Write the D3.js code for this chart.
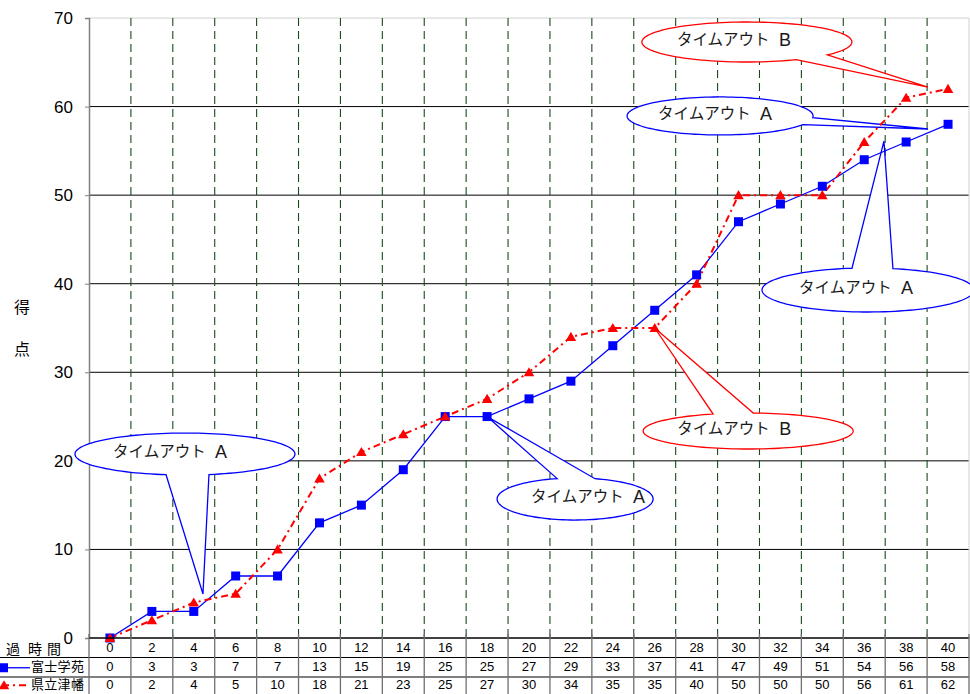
<!DOCTYPE html>
<html><head><meta charset="utf-8">
<script src="https://cdn.jsdelivr.net/npm/d3@7"></script>
<style>body{margin:0;background:#fff}svg{display:block}</style>
</head><body>
<script>
// ---- data ----
const times = [0,2,4,6,8,10,12,14,16,18,20,22,24,26,28,30,32,34,36,38,40];
const fuji = [0,3,3,7,7,13,15,19,25,25,27,29,33,37,41,47,49,51,54,56,58];
const tsubata = [0,2,4,5,10,18,21,23,25,27,30,34,35,35,40,50,50,50,56,61,62];
const seriesNames = ["富士学苑","県立津幡"];
const yTicks = [0,10,20,30,40,50,60,70];
const rowHeader = ["過","時","間"];
const yLabel = ["得","点"];
// callouts: centre (category index, score), tip (category index, score)
const calloutWord = "タイムアウト";
const calloutLetter = ["A","A","B","A","A","B"];
const calloutTeam = [0,0,1,0,0,1];
const calloutCentre = [[1.79,20.77],[11.10,15.69],[15.23,23.37],[18.09,39.29],[14.56,58.94],[15.20,67.29]];
const calloutTip = [[2.22,4.97],[9.0,25.0],[13.0,35.0],[18.47,56.1],[19.52,57.47],[19.52,62.2]];

// ---- layout ----
const W=970,H=694;
const L=89,R=969,T=18,B=638;
const rowH=19.5;
const svg=d3.select("body").append("svg").attr("width",W).attr("height",H);
const x=d3.scaleBand().domain(times).range([L,R]);
const xi=d3.scaleLinear().domain([-0.5,times.length-0.5]).range([L,R]);
const y=d3.scaleLinear().domain([0,70]).range([B,T]);
const bw=x.bandwidth();
const cx=t=>x(t)+bw/2;
const colors=["#0000ff","#ff0000"];
const font="Liberation Sans, Arial, sans-serif";
const cjk="'Noto Sans CJK JP', sans-serif";

// horizontal grid
svg.append("g").selectAll("line").data(yTicks.filter(d=>d>0&&d<70)).join("line")
  .attr("x1",L).attr("x2",R).attr("y1",d=>y(d)).attr("y2",d=>y(d))
  .attr("stroke","#000").attr("stroke-width",1);
// plot border top/right
svg.append("line").attr("x1",L).attr("x2",R).attr("y1",y(70)).attr("y2",y(70)).attr("stroke","#d0d0d0");
svg.append("line").attr("x1",R).attr("x2",R).attr("y1",y(70)).attr("y2",B).attr("stroke","#d0d0d0");
// vertical dashed grid at band boundaries
svg.append("g").selectAll("line").data(times.slice(1)).join("line")
  .attr("x1",d=>x(d)).attr("x2",d=>x(d)).attr("y1",y(70)).attr("y2",B)
  .attr("stroke","#1a4a1a").attr("stroke-width",1.1).attr("stroke-dasharray","8,5");

// y axis
const yAxis=svg.append("g").attr("transform",`translate(${L},0)`)
  .call(d3.axisLeft(y).tickValues(yTicks).tickSize(4).tickFormat(d3.format("d")));
yAxis.select(".domain").attr("stroke","#808080").attr("stroke-width",1.5);
yAxis.selectAll(".tick line").attr("stroke","#808080");
yAxis.selectAll(".tick text").attr("x",-16).attr("font-size",17).attr("font-family",font).attr("fill","#000");
// y label
yLabel.forEach((c,i)=>svg.append("text").attr("x",22).attr("y",y(37.2)+i*42).attr("text-anchor","middle")
  .attr("dominant-baseline","middle").attr("font-size",16).attr("font-family",cjk).text(c));

// callouts (drawn under series)
const cg=svg.append("g");
calloutLetter.forEach((lab,k)=>{
  const [ci,cv]=calloutCentre[k];
  const ex=xi(ci), ey=y(cv);
  const rx=[110,78,105,106,93,105][k], ry=[21,21,18,22,19,20][k];
  const tip=[xi(calloutTip[k][0]), y(calloutTip[k][1])];
  const ang=[[77.4,99.9],[-103.3,-75.2],[-109.5,-87.2],[-98.7,-76.4],[5,27],[40,62]][k];
  const a1=ang[0]*Math.PI/180, a2=ang[1]*Math.PI/180;
  const pts=[tip];
  const n=120;
  for(let i=0;i<=n;i++){
    const t=a2+(a1+2*Math.PI-a2)*i/n;
    pts.push([ex+rx*Math.cos(t), ey+ry*Math.sin(t)]);
  }
  const col=colors[calloutTeam[k]];
  cg.append("path").attr("d",d3.line()(pts)+"Z").attr("fill","#fff").attr("stroke",col).attr("stroke-width",1.3);
  const tdx=[-14,14,-13,-11,-4,-12][k];
  const t0=ex+tdx-58;
  const tt=cg.append("text").attr("x",t0).attr("y",ey-1).attr("dominant-baseline","middle")
    .attr("font-size",15.5).attr("font-family",cjk).attr("fill","#1a1a1a");
  tt.append("tspan").text(calloutWord);
  tt.append("tspan").attr("x",t0+102).attr("font-family",font).attr("font-size",18).text(lab);
});

// series
const series=[fuji,tsubata];
const lineGen=d3.line().x((d,i)=>cx(times[i])).y(d=>y(d));
series.forEach((s,k)=>{
  svg.append("path").datum(s).attr("d",lineGen).attr("fill","none").attr("stroke",colors[k])
    .attr("stroke-width",k?2:1.3).attr("stroke-dasharray",k?"7,4,2,4":null);
});
svg.append("g").selectAll("rect").data(fuji).join("rect")
  .attr("x",(d,i)=>cx(times[i])-4.5).attr("y",d=>y(d)-4.5).attr("width",9).attr("height",9).attr("fill",colors[0]);
const tri=d3.symbol().type(d3.symbolTriangle).size(48);
svg.append("g").selectAll("path").data(tsubata).join("path")
  .attr("transform",(d,i)=>`translate(${cx(times[i])},${y(d)+1})`).attr("d",tri).attr("fill",colors[1]);

// x axis line
svg.append("line").attr("x1",L).attr("x2",R).attr("y1",B).attr("y2",B).attr("stroke","#000").attr("stroke-width",1.5);

// data table
const tg=svg.append("g");
[B+rowH,B+2*rowH].forEach(yy=>tg.append("line").attr("x1",0).attr("x2",R).attr("y1",yy).attr("y2",yy).attr("stroke","#000"));
tg.append("line").attr("x1",0).attr("x2",R).attr("y1",B+3*rowH-1).attr("y2",B+3*rowH-1).attr("stroke","#000");
tg.selectAll("line.v").data(times.concat(["end"])).join("line").attr("class","v")
  .attr("x1",d=>d==="end"?R:x(d)).attr("x2",d=>d==="end"?R:x(d)).attr("y1",B-4).attr("y2",H)
  .attr("stroke","#707070").attr("stroke-width",1.3);
const rowY=[B+rowH/2+1,B+rowH*1.5+0.5,B+rowH*2.5-1.5];
const rows=[times,fuji,tsubata];
rows.forEach((r,ri)=>{
  tg.append("g").selectAll("text").data(r).join("text")
    .attr("x",(d,i)=>cx(times[i])).attr("y",rowY[ri]).attr("text-anchor","middle")
    .attr("dominant-baseline","middle").attr("font-size",13).attr("font-family",font).text(d=>d);
});
rowHeader.forEach((c,i)=>tg.append("text").attr("x",[6,28,47][i]).attr("y",B+rowH/2+2).attr("dominant-baseline","middle")
  .attr("font-size",14).attr("font-family",cjk).text(c));
// legend keys
seriesNames.forEach((nm,k)=>{
  const yy=rowY[k+1];
  tg.append("line").attr("x1",2).attr("x2",30).attr("y1",yy).attr("y2",yy).attr("stroke",colors[k])
    .attr("stroke-width",k?2:1.3).attr("stroke-dasharray",k?"7,4,2,4":null);
  if(k===0) tg.append("rect").attr("x",-1).attr("y",yy-4.5).attr("width",9).attr("height",9).attr("fill",colors[0]);
  else tg.append("path").attr("transform",`translate(4,${yy+1})`).attr("d",tri).attr("fill",colors[1]);
  tg.append("text").attr("x",31).attr("y",yy).attr("dominant-baseline","middle").attr("font-size",13)
    .attr("letter-spacing",0.3).attr("font-family",cjk).text(nm);
});
</script>
</body></html>
